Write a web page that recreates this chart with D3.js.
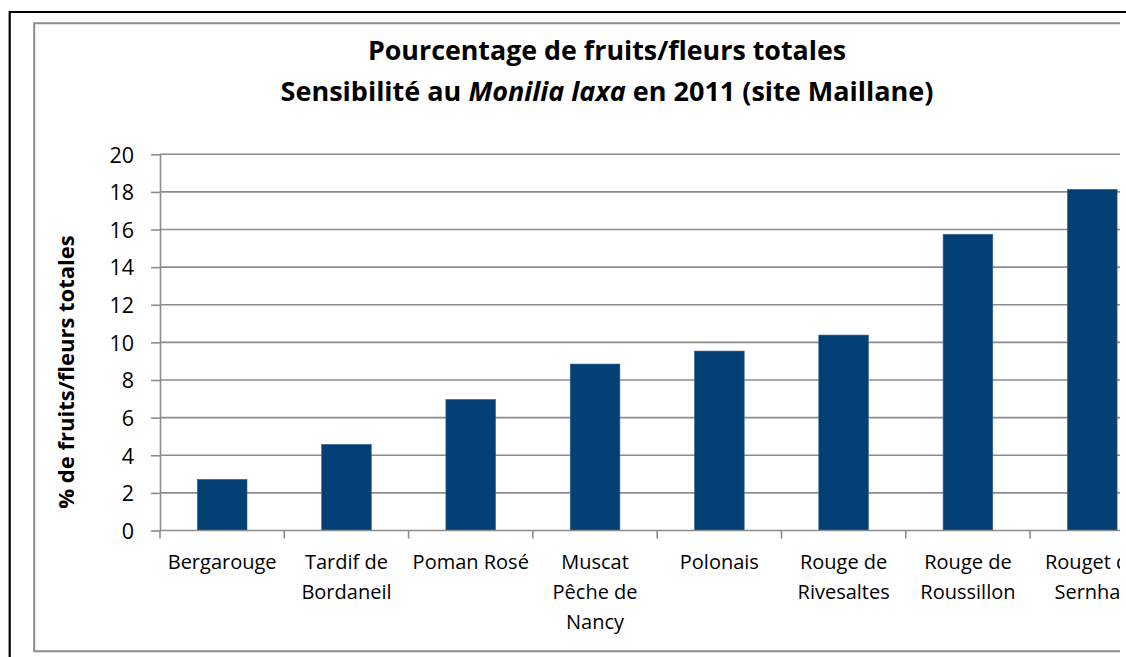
<!DOCTYPE html>
<html>
<head>
<meta charset="utf-8">
<script src="https://cdn.jsdelivr.net/npm/d3@7"></script>
<style>
  html, body { margin: 0; padding: 0; background: #fff; }
  svg { display: block; }
  text { font-family: "Open Sans", sans-serif; fill: #000; }
</style>
</head>
<body>
<svg id="chart" width="1126" height="657"></svg>
<script>
const categories = ["Bergarouge", "Tardif de\nBordaneil", "Poman Rosé", "Muscat\nPêche de\nNancy",
  "Polonais", "Rouge de\nRivesaltes", "Rouge de\nRoussillon", "Rouget de\nSernhac"];
const values = [2.72, 4.58, 6.97, 8.85, 9.54, 10.39, 15.75, 18.14];
const yTicks = [0, 2, 4, 6, 8, 10, 12, 14, 16, 18, 20];
const titleLine1 = "Pourcentage de fruits/fleurs totales";
const titleLine2 = [["Sensibilité au ", "normal"], ["Monilia laxa", "italic"], [" en 2011 (site Maillane)", "normal"]];
const yTitle = "% de fruits/fleurs totales";

const svg = d3.select("#chart");
const W = 1126, H = 657;

// outer border (black)
svg.append("line").attr("x1", 9.5).attr("x2", W).attr("y1", 12).attr("y2", 12)
  .attr("stroke", "#000").attr("stroke-width", 2.2);
svg.append("line").attr("x1", 9.7).attr("x2", 9.7).attr("y1", 11).attr("y2", H)
  .attr("stroke", "#000").attr("stroke-width", 2.2);

// clip for chart area (the reference is cut at x = 1120)
svg.append("defs").append("clipPath").attr("id", "clip")
  .append("rect").attr("x", 0).attr("y", 0).attr("width", 1120).attr("height", H);
const g = svg.append("g").attr("clip-path", "url(#clip)");

// inner chart area border (gray)
g.append("path")
  .attr("d", `M1200,23.2 H34.2 V651.2 H1200`)
  .attr("fill", "none").attr("stroke", "#8c8c8c").attr("stroke-width", 2);

// scales
const plotLeft = 160, step = 124.3;
const x = d3.scaleBand().domain(categories)
  .range([plotLeft, plotLeft + step * categories.length])
  .paddingInner(0.6).paddingOuter(0.3);
const y = d3.scaleLinear().domain([0, 20]).range([530.5, 154.3]);

// gridlines
g.append("g").selectAll("line").data(yTicks.filter(d => d > 0)).join("line")
  .attr("x1", plotLeft).attr("x2", plotLeft + step * categories.length)
  .attr("y1", d => y(d)).attr("y2", d => y(d))
  .attr("stroke", "#8c8c8c").attr("stroke-width", 1.6);

// bars
g.append("g").selectAll("rect").data(values).join("rect")
  .attr("x", (d, i) => x(categories[i]))
  .attr("width", x.bandwidth())
  .attr("y", d => y(d))
  .attr("height", d => y(0) - y(d))
  .attr("fill", "#023F74")
  .attr("stroke", "#3d6a96").attr("stroke-width", 0.6);

// y axis
const yAxis = d3.axisLeft(y).tickValues(yTicks).tickSize(9).tickPadding(17).tickSizeOuter(0);
const ya = g.append("g").attr("transform", `translate(${plotLeft},0)`).call(yAxis);
ya.select(".domain").attr("stroke", "#8c8c8c").attr("stroke-width", 1.6);
ya.selectAll(".tick line").attr("stroke", "#8c8c8c").attr("stroke-width", 1.6);
ya.selectAll(".tick text").attr("font-size", 21.5).attr("font-family", "'Open Sans', sans-serif")
  .attr("fill", "#000").attr("dy", "0.36em");

// x axis line + boundary ticks
g.append("line").attr("x1", plotLeft).attr("x2", plotLeft + step * categories.length)
  .attr("y1", y(0)).attr("y2", y(0)).attr("stroke", "#8c8c8c").attr("stroke-width", 1.6);
const boundaries = categories.map(c => x(c) - (x.step() - x.bandwidth()) / 2);
boundaries.push(boundaries[boundaries.length - 1] + x.step());
g.append("g").selectAll("line").data(boundaries).join("line")
  .attr("x1", d => d).attr("x2", d => d).attr("y1", y(0)).attr("y2", y(0) + 8)
  .attr("stroke", "#8c8c8c").attr("stroke-width", 1.6);

// category labels
const cl = g.append("g").selectAll("text").data(categories).join("text")
  .attr("x", d => x(d) + x.bandwidth() / 2)
  .attr("y", 568.5)
  .attr("text-anchor", "middle")
  .attr("font-size", 20);
cl.each(function(d) {
  const t = d3.select(this);
  d.split("\n").forEach((line, i) => {
    t.append("tspan").attr("x", x(d) + x.bandwidth() / 2).attr("dy", i === 0 ? 0 : 30).text(line);
  });
});

// title
const tcx = 607;
g.append("text").attr("x", tcx).attr("y", 60).attr("text-anchor", "middle")
  .attr("font-size", 26.8).attr("font-weight", "bold").text(titleLine1);
const t2 = g.append("text").attr("x", tcx).attr("y", 101).attr("text-anchor", "middle")
  .attr("font-size", 27).attr("font-weight", "bold");
titleLine2.forEach(([s, st]) => t2.append("tspan").attr("font-style", st).text(s));

// y title
g.append("text").attr("transform", `translate(74,${372}) rotate(-90)`)
  .attr("text-anchor", "middle").attr("font-size", 22).attr("font-weight", "bold").text(yTitle);
</script>
</body>
</html>
